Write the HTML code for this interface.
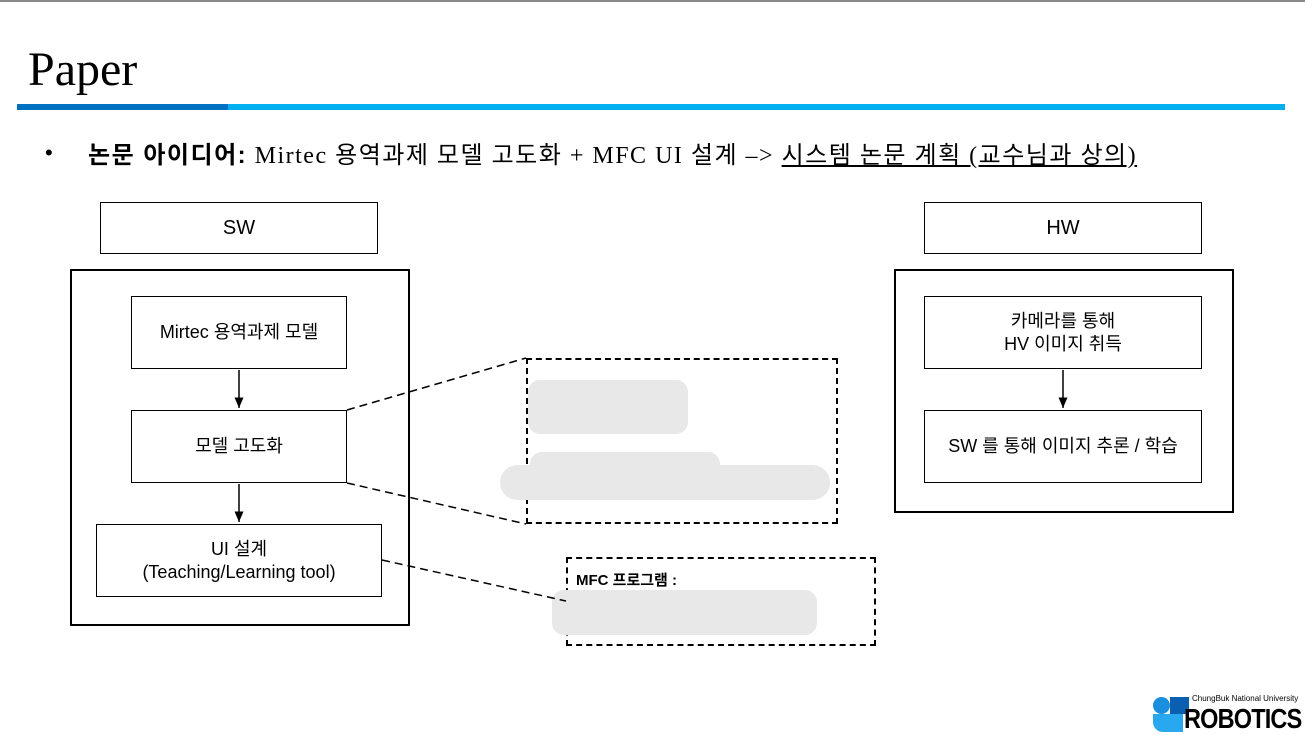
<!DOCTYPE html>
<html><head><meta charset="utf-8"><style>
body{margin:0;width:1305px;height:733px;position:relative;background:#fff;overflow:hidden;font-family:"Liberation Sans","Noto Sans CJK KR",sans-serif}
.a{position:absolute}
.box{position:absolute;border:2px solid #000;box-sizing:border-box;display:flex;align-items:center;justify-content:center;text-align:center;font-size:18px;line-height:23px}
.thin{border-width:1.5px}
.blur{position:absolute;background:#e8e8e8;border-radius:12px}
</style></head><body>
<div class="a" style="left:0;top:0;width:1305px;height:2px;background:#888"></div>
<div class="a" style="left:28px;top:42px;font-family:'Liberation Serif',serif;font-size:48px">Paper</div>
<div class="a" style="left:17px;top:104px;width:211px;height:6px;background:#0070c0"></div>
<div class="a" style="left:228px;top:104px;width:1057px;height:6px;background:#00b0f0"></div>
<div class="a" style="left:45px;top:140px;font-size:22px">•</div>
<div class="a" style="left:88px;top:135px;font-size:24px;letter-spacing:1.5px;white-space:nowrap;font-family:'Liberation Serif','Noto Sans CJK KR',serif"><b style="font-family:'Liberation Sans','Noto Sans CJK KR',sans-serif">논문 아이디어:</b> Mirtec 용역과제 모델 고도화 + MFC UI 설계 –&gt; <u>시스템 논문 계획 (교수님과 상의)</u></div>

<div class="box thin" style="left:100px;top:202px;width:278px;height:52px;font-size:20px">SW</div>
<div class="box thin" style="left:924px;top:202px;width:278px;height:52px;font-size:20px">HW</div>
<div class="box" style="left:70px;top:269px;width:340px;height:357px"></div>
<div class="box" style="left:894px;top:269px;width:340px;height:244px"></div>
<div class="box thin" style="left:131px;top:296px;width:216px;height:73px">Mirtec 용역과제 모델</div>
<div class="box thin" style="left:131px;top:410px;width:216px;height:73px">모델 고도화</div>
<div class="box thin" style="left:96px;top:524px;width:286px;height:73px">UI 설계<br>(Teaching/Learning tool)</div>
<div class="box thin" style="left:924px;top:296px;width:278px;height:73px">카메라를 통해<br>HV 이미지 취득</div>
<div class="box thin" style="left:924px;top:410px;width:278px;height:73px">SW 를 통해 이미지 추론 / 학습</div>
<div class="a" style="left:526px;top:358px;width:312px;height:166px;border:2px dashed #000;box-sizing:border-box"></div>
<div class="a" style="left:566px;top:557px;width:310px;height:89px;border:2px dashed #000;box-sizing:border-box"></div>
<div class="a" style="left:576px;top:569px;font-size:15px;font-weight:bold">MFC 프로그램 :</div>
<div class="blur" style="left:528px;top:380px;width:160px;height:54px"></div>
<div class="blur" style="left:530px;top:452px;width:190px;height:30px"></div>
<div class="blur" style="left:500px;top:465px;width:330px;height:35px;border-radius:20px"></div>
<div class="blur" style="left:552px;top:590px;width:265px;height:45px"></div>
<svg class="a" style="left:0;top:0" width="1305" height="733">
<defs><marker id="m" markerWidth="8" markerHeight="8" refX="7" refY="4" orient="auto"><path d="M0,1 L7,4 L0,7z"/></marker></defs>
<g stroke="#000" stroke-width="1.5">
<line x1="239" y1="370" x2="239" y2="408" marker-end="url(#m)"/>
<line x1="239" y1="484" x2="239" y2="522" marker-end="url(#m)"/>
<line x1="1063" y1="370" x2="1063" y2="408" marker-end="url(#m)"/>
</g>
<g stroke="#000" stroke-width="1.5" stroke-dasharray="8,5">
<line x1="347" y1="410" x2="526" y2="358"/>
<line x1="347" y1="483" x2="526" y2="524"/>
<line x1="382" y1="560" x2="566" y2="601"/>
</g>
</svg>
<div class="a" style="left:1153px;top:697px;width:17px;height:17px;border-radius:50%;background:#1a8fe0"></div>
<div class="a" style="left:1170px;top:697px;width:19px;height:17px;background:#0b5fb0"></div>
<div class="a" style="left:1153px;top:714px;width:30px;height:18px;background:#29a8ef;border-radius:0 0 0 10px"></div>
<div class="a" style="left:1192px;top:694px;font-size:8px;white-space:nowrap">ChungBuk National University</div>
<div class="a" style="left:1184px;top:703px;font-size:28px;font-weight:bold;letter-spacing:-1px;white-space:nowrap;transform:scaleX(0.84);transform-origin:left top">ROBOTICS</div>
</body></html>
